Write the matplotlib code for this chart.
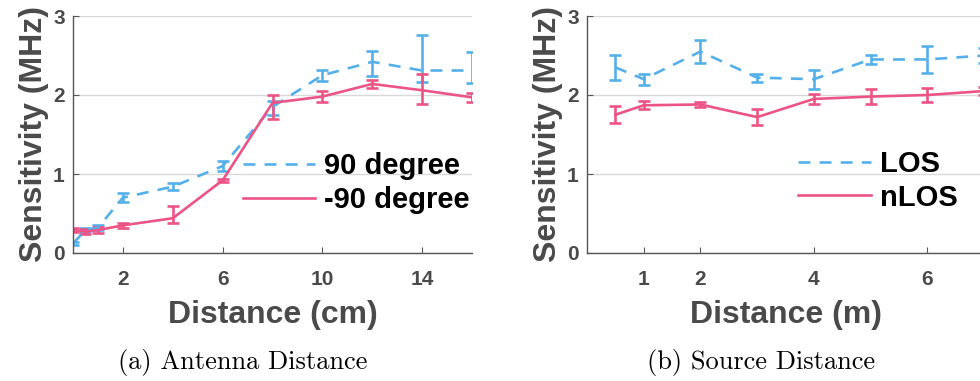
import matplotlib
matplotlib.use('Agg')
import matplotlib.pyplot as plt
from matplotlib.lines import Line2D

# (a) antenna distance, cm
ant_x = [0, 0.5, 1, 2, 4, 6, 8, 10, 12, 14, 16]
ant_pos90 = [0.12, 0.29, 0.32, 0.70, 0.84, 1.10, 1.85, 2.25, 2.42, 2.31, 2.31]
ant_pos90_lo = [0.02, 0.03, 0.03, 0.06, 0.04, 0.06, 0.10, 0.07, 0.18, 0.14, 0.16]
ant_pos90_hi = [0.02, 0.03, 0.03, 0.06, 0.04, 0.06, 0.08, 0.07, 0.14, 0.45, 0.24]
ant_neg90 = [0.29, 0.27, 0.29, 0.35, 0.44, 0.92, 1.90, 1.98, 2.14, 2.06, 1.97]
ant_neg90_lo = [0.03, 0.03, 0.04, 0.03, 0.06, 0.02, 0.20, 0.07, 0.05, 0.17, 0.06]
ant_neg90_hi = [0.03, 0.03, 0.04, 0.03, 0.16, 0.02, 0.10, 0.07, 0.05, 0.20, 0.06]

# (b) source distance, m
src_x = [0.5, 1, 2, 3, 4, 5, 6, 7]
src_los = [2.35, 2.20, 2.55, 2.22, 2.20, 2.45, 2.45, 2.50]
src_los_err = [0.16, 0.07, 0.15, 0.05, 0.12, 0.06, 0.17, 0.10]
src_nlos = [1.75, 1.87, 1.88, 1.72, 1.95, 1.98, 2.00, 2.05]
src_nlos_err = [0.11, 0.05, 0.03, 0.10, 0.06, 0.10, 0.09, 0.05]

blue = '#55b0ea'
pink = '#ec5486'
grey = '#4a4a4a'
lw = 1.9
dash = (4.5, 3.5)

plt.rcParams['font.family'] = ['Liberation Sans', 'DejaVu Sans']

fig = plt.figure(figsize=(9.8, 3.81), dpi=100)
ax1 = fig.add_axes([73/980, 128/381, 399/980, 237/381])
ax2 = fig.add_axes([587/980, 128/381, 397/980, 237/381])


def style(ax, xlim, xticks, xlabel):
    ax.set_xlim(*xlim)
    ax.set_ylim(0, 3)
    ax.set_yticks([0, 1, 2, 3])
    ax.set_xticks(xticks)
    ax.grid(axis='y', color='#d9d9d9', lw=1)
    ax.set_axisbelow(True)
    for s in ['top', 'right']:
        ax.spines[s].set_visible(False)
    for s in ['left', 'bottom']:
        ax.spines[s].set_color('#555555')
        ax.spines[s].set_linewidth(1.0)
    ax.tick_params(direction='in', length=4, color='#555555', labelsize=15,
                   labelcolor=grey)
    ax.tick_params(axis='x', pad=12)
    ax.tick_params(axis='y', pad=6)
    for lab in ax.get_xticklabels() + ax.get_yticklabels():
        lab.set_fontweight('bold')
    ax.set_xlabel(xlabel, fontsize=23, fontweight='bold', color=grey, labelpad=8.5)
    ax.set_ylabel('Sensitivity (MHz)', fontsize=23, fontweight='bold', color=grey, labelpad=3)


def legend(ax, labels, anchor):
    handles = [Line2D([], [], color=blue, lw=lw, dashes=dash),
               Line2D([], [], color=pink, lw=lw)]
    ax.legend(handles, labels, loc='center left', bbox_to_anchor=anchor, frameon=False,
              prop={'weight': 'bold', 'size': 21}, handlelength=2.5, handletextpad=0.3,
              labelspacing=0.2, borderpad=0, borderaxespad=0)


ax1.errorbar(ant_x, ant_pos90, yerr=[ant_pos90_lo, ant_pos90_hi], color=blue, lw=lw,
             dashes=dash, capsize=4, capthick=lw, elinewidth=lw)
ax1.errorbar(ant_x, ant_neg90, yerr=[ant_neg90_lo, ant_neg90_hi], color=pink, lw=lw,
             capsize=4, capthick=lw, elinewidth=lw)
style(ax1, (0, 16), [2, 6, 10, 14], 'Distance (cm)')
legend(ax1, ['90 degree', '-90 degree'], (0.425, 0.295))

ax2.errorbar(src_x, src_los, yerr=src_los_err, color=blue, lw=lw,
             dashes=dash, capsize=4, capthick=lw, elinewidth=lw)
ax2.errorbar(src_x, src_nlos, yerr=src_nlos_err, color=pink, lw=lw,
             capsize=4, capthick=lw, elinewidth=lw)
style(ax2, (0, 7), [1, 2, 4, 6], 'Distance (m)')
legend(ax2, ['LOS', 'nLOS'], (0.532, 0.305))

fig.text(243/980, 1 - 362/381, '(a) Antenna Distance', family='cmr10', fontsize=19,
         ha='center', va='center')
fig.text(761/980, 1 - 362/381, '(b) Source Distance', family='cmr10', fontsize=19,
         ha='center', va='center')

fig.savefig('out.png', dpi=100)
